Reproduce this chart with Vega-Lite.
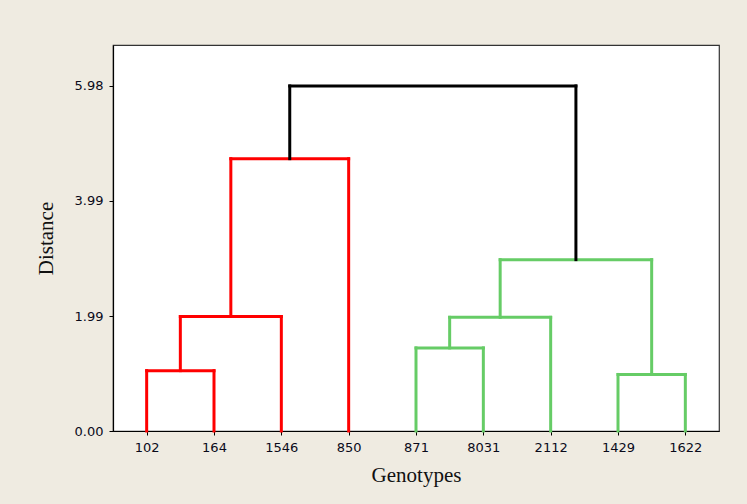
{
  "$schema": "https://vega.github.io/schema/vega-lite/v6.json",
  "autosize": "none",
  "width": 606,
  "height": 386,
  "padding": {"left": 113, "top": 45, "right": 28, "bottom": 73},
  "background": "#EFEBE1",
  "config": {
    "view": {"stroke": "#333333", "strokeWidth": 1.2, "fill": "white"},
    "axis": {
      "grid": false,
      "domainColor": "#000000",
      "domainWidth": 1.2,
      "tickColor": "#000000",
      "tickSize": 4,
      "tickWidth": 1,
      "labelFont": "DejaVu Sans",
      "labelFontSize": 13,
      "labelColor": "#0a0a1a",
      "titleFont": "Liberation Serif",
      "titleFontSize": 21,
      "titleFontWeight": "normal",
      "titleColor": "#111111"
    }
  },
  "data": {
    "values": [
      {"x": 1, "x2": 1, "y": 0, "y2": 1.046, "cluster": "A"},
      {"x": 2, "x2": 2, "y": 0, "y2": 1.046, "cluster": "A"},
      {"x": 1, "x2": 2, "y": 1.046, "y2": 1.046, "cluster": "A"},
      {"x": 3, "x2": 3, "y": 0, "y2": 1.985, "cluster": "A"},
      {"x": 1.5, "x2": 1.5, "y": 1.046, "y2": 1.985, "cluster": "A"},
      {"x": 1.5, "x2": 3, "y": 1.985, "y2": 1.985, "cluster": "A"},
      {"x": 4, "x2": 4, "y": 0, "y2": 4.72, "cluster": "A"},
      {"x": 2.25, "x2": 2.25, "y": 1.985, "y2": 4.72, "cluster": "A"},
      {"x": 2.25, "x2": 4, "y": 4.72, "y2": 4.72, "cluster": "A"},
      {"x": 5, "x2": 5, "y": 0, "y2": 1.44, "cluster": "B"},
      {"x": 6, "x2": 6, "y": 0, "y2": 1.44, "cluster": "B"},
      {"x": 5, "x2": 6, "y": 1.44, "y2": 1.44, "cluster": "B"},
      {"x": 7, "x2": 7, "y": 0, "y2": 1.97, "cluster": "B"},
      {"x": 5.5, "x2": 5.5, "y": 1.44, "y2": 1.97, "cluster": "B"},
      {"x": 5.5, "x2": 7, "y": 1.97, "y2": 1.97, "cluster": "B"},
      {"x": 8, "x2": 8, "y": 0, "y2": 0.98, "cluster": "B"},
      {"x": 9, "x2": 9, "y": 0, "y2": 0.98, "cluster": "B"},
      {"x": 8, "x2": 9, "y": 0.98, "y2": 0.98, "cluster": "B"},
      {"x": 6.25, "x2": 6.25, "y": 1.97, "y2": 2.97, "cluster": "B"},
      {"x": 8.5, "x2": 8.5, "y": 0.98, "y2": 2.97, "cluster": "B"},
      {"x": 6.25, "x2": 8.5, "y": 2.97, "y2": 2.97, "cluster": "B"},
      {"x": 3.125, "x2": 3.125, "y": 4.72, "y2": 5.98, "cluster": "Root"},
      {"x": 7.375, "x2": 7.375, "y": 2.97, "y2": 5.98, "cluster": "Root"},
      {"x": 3.125, "x2": 7.375, "y": 5.98, "y2": 5.98, "cluster": "Root"}
    ]
  },
  "mark": {"type": "rule", "strokeWidth": 3, "strokeCap": "square"},
  "encoding": {
    "x": {
      "field": "x",
      "type": "quantitative",
      "scale": {"domain": [0.5, 9.5], "nice": false, "zero": false},
      "axis": {
        "title": "Genotypes",
        "values": [1, 2, 3, 4, 5, 6, 7, 8, 9],
        "labelExpr": "['102','164','1546','850','871','8031','2112','1429','1622'][datum.value - 1]",
        "labelPadding": 6,
        "titlePadding": 10
      }
    },
    "x2": {"field": "x2"},
    "y": {
      "field": "y",
      "type": "quantitative",
      "scale": {"domain": [0, 6.69], "nice": false},
      "axis": {
        "title": "Distance",
        "values": [0, 1.99, 3.99, 5.98],
        "format": ".2f",
        "labelPadding": 6,
        "titlePadding": 18
      }
    },
    "y2": {"field": "y2"},
    "color": {
      "field": "cluster",
      "type": "nominal",
      "scale": {"domain": ["A", "B", "Root"], "range": ["#FF0000", "#66CC66", "#000000"]},
      "legend": null
    }
  }
}
